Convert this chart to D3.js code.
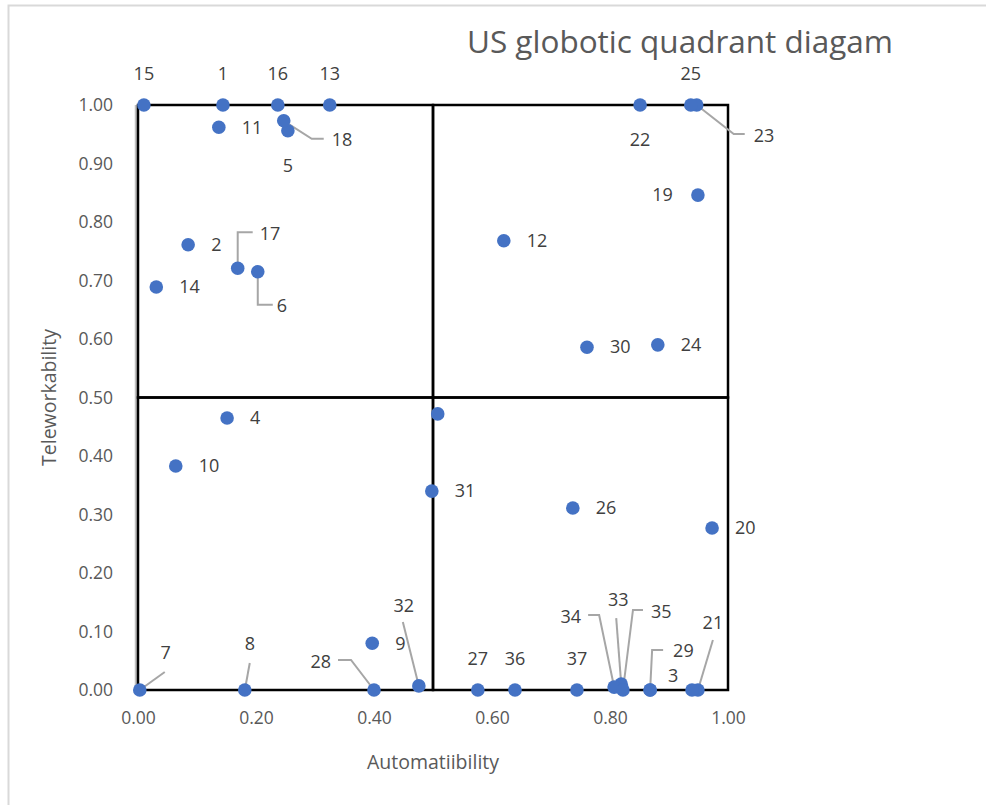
<!DOCTYPE html>
<html><head><meta charset="utf-8">
<script src="https://cdn.jsdelivr.net/npm/d3@7"></script>
<style>
html,body{margin:0;padding:0;background:#fff;overflow:hidden;}
svg{display:block;font-family:"Open Sans","Noto Sans",sans-serif;}
</style></head>
<body><svg id="chart" width="986" height="805"></svg>
<script>
// ---- data ----
const title = "US globotic quadrant diagam";
const xTitle = "Automatiibility";
const yTitle = "Teleworkability";
const pointLabels = ["1","2","3","4","5","6","7","8","9","10","11","12","13","14","15","16","17","18","19","20","21","22","23","24","25","26","27","28","29","30","31","32","33","34","35","36","37","",""];
const automatability = [0.144,0.085,0.868,0.151,0.254,0.203,0.003,0.181,0.397,0.064,0.137,0.620,0.325,0.031,0.010,0.237,0.169,0.247,0.949,0.973,0.949,0.851,0.947,0.881,0.937,0.737,0.576,0.400,0.868,0.761,0.498,0.476,0.819,0.807,0.822,0.639,0.744,0.508,0.939];
const teleworkability = [1.000,0.761,0.000,0.465,0.956,0.715,0.000,0.000,0.080,0.383,0.962,0.768,1.000,0.689,1.000,1.000,0.721,0.973,0.846,0.277,0.000,1.000,1.000,0.590,1.000,0.311,0.000,0.000,0.000,0.586,0.340,0.007,0.010,0.005,0.000,0.000,0.000,0.472,0.000];
const tickValues = [0,0.1,0.2,0.3,0.4,0.5,0.6,0.7,0.8,0.9,1.0];
const xTickValues = [0,0.2,0.4,0.6,0.8,1.0];
const quadrantSplit = 0.5;

// ---- label placement (annotation layout, pixel offsets from each point) ----
const R = {pos:"right"}, A = {pos:"above"}, B = {pos:"below"}, L = {pos:"left"};
const placement = {
  "1":A,"13":A,"15":A,"16":A,"25":A,"27":A,"36":A,"37":A,
  "2":R,"4":R,"9":R,"10":R,"11":R,"12":R,"14":R,"20":R,"24":R,"26":R,"30":R,"31":R,
  "19":L,"5":B,"22":B,
  "3":{dx:18,dy:-14,anchor:"start"},
  "18":{dx:48,dy:19,anchor:"start",leader:[[28,18],[40,18]]},
  "23":{dx:57,dy:31,anchor:"start",leader:[[37,29],[48,29]]},
  "17":{dx:22,dy:-35,anchor:"start",leader:[[0,-36],[15,-36]]},
  "6":{dx:19,dy:34,anchor:"start",leader:[[0,33],[15,33]]},
  "28":{dx:-43,dy:-28,anchor:"end",leader:[[-23,-30],[-36,-30]]},
  "32":{dx:-15,dy:-80,anchor:"middle",leader:[[-16,-64]]},
  "7":{dx:26,dy:-37,anchor:"middle",leader:[[25,-18]]},
  "8":{dx:5,dy:-46,anchor:"middle",leader:[[5,-27]]},
  "34":{dx:-33,dy:-70,anchor:"end",leader:[[-15,-72],[-26,-72]]},
  "33":{dx:-3,dy:-84,anchor:"middle",leader:[[-5,-66]]},
  "35":{dx:28,dy:-78,anchor:"start",leader:[[10,-80],[20,-80]]},
  "29":{dx:23,dy:-39,anchor:"start",leader:[[2,-40],[13,-40]]},
  "21":{dx:15,dy:-67,anchor:"middle",leader:[[15,-50]]}
};

// ---- chart ----
const svg = d3.select("#chart");
const plot = {left:138, right:728, top:105, bottom:690};
const x = d3.scaleLinear().domain([0,1]).range([plot.left, plot.right]);
const y = d3.scaleLinear().domain([0,1]).range([plot.bottom, plot.top]);

// chart area border (only left and top edges fall inside the picture)
svg.append("path").attr("d","M8.5,805 L8.5,5.5 L986,5.5")
  .attr("fill","none").attr("stroke","#d9d9d9").attr("stroke-width",2);

// title
svg.append("text").attr("x",680).attr("y",53).attr("text-anchor","middle")
  .attr("font-size",31.5).attr("fill","#595959").text(title);

// axes
const yAxis = d3.axisLeft(y).tickValues(tickValues).tickSize(0).tickPadding(25).tickFormat(d3.format(".2f"));
const gy = svg.append("g").attr("transform",`translate(${plot.left},0)`).call(yAxis);
const xAxis = d3.axisBottom(x).tickValues(xTickValues).tickSize(0).tickPadding(22).tickFormat(d3.format(".2f"));
const gx = svg.append("g").attr("transform",`translate(0,${plot.bottom})`).call(xAxis);
[gx,gy].forEach(g=>{
  g.select(".domain").remove();
  g.selectAll("text").attr("font-size",17.5).attr("fill","#595959").attr("font-family","'Open Sans',sans-serif");
});

svg.append("text").attr("x",(plot.left+plot.right)/2).attr("y",769).attr("text-anchor","middle")
  .attr("font-size",19.5).attr("fill","#595959").text(xTitle);
svg.append("text").attr("transform",`translate(56,${(plot.top+plot.bottom)/2}) rotate(-90)`)
  .attr("text-anchor","middle").attr("font-size",19.5).attr("fill","#595959").text(yTitle);

// gray leader along left edge
svg.append("line").attr("x1",x(0)-2).attr("x2",x(0)-2).attr("y1",y(1)).attr("y2",y(0))
  .attr("stroke","#bfbfbf").attr("stroke-width",2.5);

// quadrants
const q = svg.append("g").attr("fill","none").attr("stroke","#000").attr("stroke-width",2.5);
const qx = [[0,quadrantSplit],[quadrantSplit,1]], qy = [[0,quadrantSplit],[quadrantSplit,1]];
qx.forEach(a=>qy.forEach(b=>{
  q.append("rect").attr("x",x(a[0])).attr("y",y(b[1]))
    .attr("width",x(a[1])-x(a[0])).attr("height",y(b[0])-y(b[1]));
}));

const data = pointLabels.map((l,i)=>({label:l, ax:automatability[i], tw:teleworkability[i]}));

// leader lines
const lead = svg.append("g").attr("fill","none").attr("stroke","#a6a6a6").attr("stroke-width",2);
data.forEach(d=>{
  const p = placement[d.label];
  if(p && p.leader){
    const px = x(d.ax), py = y(d.tw);
    const pts = [[px,py]].concat(p.leader.map(o=>[px+o[0],py+o[1]]));
    lead.append("path").attr("d",d3.line()(pts));
  }
});

// points
svg.append("g").selectAll("circle").data(data).join("circle")
  .attr("cx",d=>x(d.ax)).attr("cy",d=>y(d.tw)).attr("r",6.8).attr("fill","#4472C4");

// labels
const lab = svg.append("g").attr("font-size",18).attr("fill","#404040");
data.forEach(d=>{
  if(!d.label) return;
  const p = placement[d.label] || R;
  const px = x(d.ax), py = y(d.tw);
  let dx=0, dy=0, anchor="middle";
  if(p.pos==="right"){dx=23;dy=0;anchor="start";}
  else if(p.pos==="left"){dx=-25;dy=0;anchor="end";}
  else if(p.pos==="above"){dx=0;dy=-31;}
  else if(p.pos==="below"){dx=0;dy=35;}
  else {dx=p.dx;dy=p.dy;anchor=p.anchor;}
  lab.append("text").attr("x",px+dx).attr("y",py+dy).attr("dy","0.35em")
    .attr("text-anchor",anchor).text(d.label);
});
</script></body></html>
